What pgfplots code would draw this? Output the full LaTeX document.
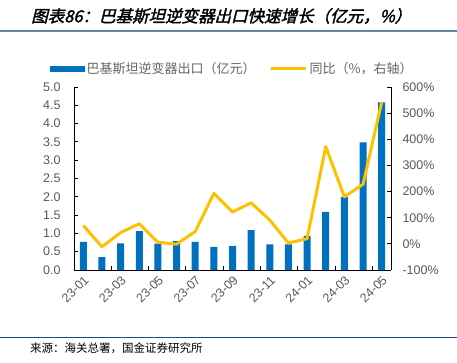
\documentclass[border=0pt]{standalone}
\usepackage{fontspec}
\setmainfont{Liberation Sans}
\newfontfamily\cjk{Noto Sans CJK SC}
\newfontfamily\cjktitle[FakeSlant=0.25,FakeBold=2]{Noto Sans CJK SC}
\usepackage{pgfplots}
\pgfplotsset{compat=1.18}
\definecolor{barblue}{RGB}{0,112,192}
\definecolor{yel}{RGB}{255,192,0}
\definecolor{tickgray}{RGB}{89,89,89}
\definecolor{legendgray}{RGB}{100,100,100}
\definecolor{titleline}{RGB}{96,138,166}
\definecolor{botline}{RGB}{31,78,121}
\begin{document}
\begin{tikzpicture}[x=1pt,y=1pt]
\path[use as bounding box] (0,0) rectangle (457,363);
\node[anchor=west, font=\cjktitle\fontsize{16.5}{16.5}\selectfont, inner sep=0pt] at (31,347) {图表86：巴基斯坦逆变器出口快速增长（亿元，\%）};
\draw[titleline, line width=1.5pt] (0,332) -- (457,332);
\draw[botline, line width=1pt] (0,25) -- (457,25);
\node[anchor=west, font=\cjk\fontsize{11.5}{12}\selectfont, inner sep=0pt] at (30,15) {来源：海关总署，国金证券研究所};
\begin{axis}[at={(74pt,93pt)}, anchor=south west, scale only axis,
  width=317pt, height=183pt,
  xmin=-0.5, xmax=16.5, ymin=0, ymax=5,
  axis y line*=left, axis x line*=bottom,
  axis line style={line width=0.8pt},
  tick align=inside, major tick length=4pt, minor tick length=4pt,
  tick style={line width=0.8pt, black},
  xtick={0,2,4,6,8,10,12,14,16},
  xticklabels={23-01,23-03,23-05,23-07,23-09,23-11,24-01,24-03,24-05},
  every major x tick/.style={draw=none},
  minor xtick={1.5,3.5,5.5,7.5,9.5,11.5,13.5,15.5},
  x tick label style={rotate=45, anchor=north east, font=\fontsize{12.5}{12.5}\selectfont, text=tickgray},
  ytick={0,0.5,1,1.5,2,2.5,3,3.5,4,4.5,5},
  y tick label style={font=\fontsize{12.5}{12.5}\selectfont, text=tickgray, xshift=-10pt},
  /pgf/number format/assume math mode=true,
  yticklabel={\pgfmathprintnumber[fixed,fixed zerofill,precision=1]{\tick}},
  clip=false]
\addplot[ybar, bar width=7pt, fill=barblue, draw=none] coordinates {
(0,0.77) (1,0.35) (2,0.73) (3,1.06) (4,0.72) (5,0.79) (6,0.77) (7,0.63) (8,0.66)
(9,1.09) (10,0.70) (11,0.70) (12,0.93) (13,1.59) (14,2.00) (15,3.49) (16,4.58)};
\end{axis}
\begin{axis}[at={(74pt,93pt)}, anchor=south west, scale only axis,
  width=317pt, height=183pt,
  xmin=-0.5, xmax=16.5, ymin=-100, ymax=600,
  axis y line*=right, axis x line=none,
  axis line style={line width=0.8pt},
  tick align=inside, major tick length=4pt,
  tick style={line width=0.8pt, black},
  ytick={-100,0,100,200,300,400,500,600},
  y tick label style={font=\fontsize{12.5}{12.5}\selectfont, text=tickgray, xshift=8pt},
  /pgf/number format/assume math mode=true,
  yticklabel={\pgfmathprintnumber{\tick}\%},
  legend style={at={(0.5,1)}, anchor=south, yshift=8pt, draw=none, fill=none,
    font=\cjk\fontsize{13}{13}\selectfont, text=legendgray,
    /tikz/every even column/.append style={column sep=12pt}},
  legend columns=2,
  clip=false]
\addlegendimage{legend image code/.code={\fill[barblue] (0pt,-2.5pt) rectangle (34pt,2.5pt);}}
\addlegendentry{巴基斯坦逆变器出口（亿元）}
\addplot[yel, line width=3pt, no marks, line join=round,
  legend image code/.code={\draw[yel, line width=3pt] (0pt,0pt) -- (35pt,0pt);}] coordinates {
(0,70) (1,-11) (2,43) (3,77) (4,6) (5,-1) (6,47) (7,193) (8,122)
(9,157) (10,91) (11,3) (12,20) (13,372) (14,180) (15,228) (16,541)};
\addlegendentry{同比（\%，右轴）}
\end{axis}
\end{tikzpicture}
\end{document}
